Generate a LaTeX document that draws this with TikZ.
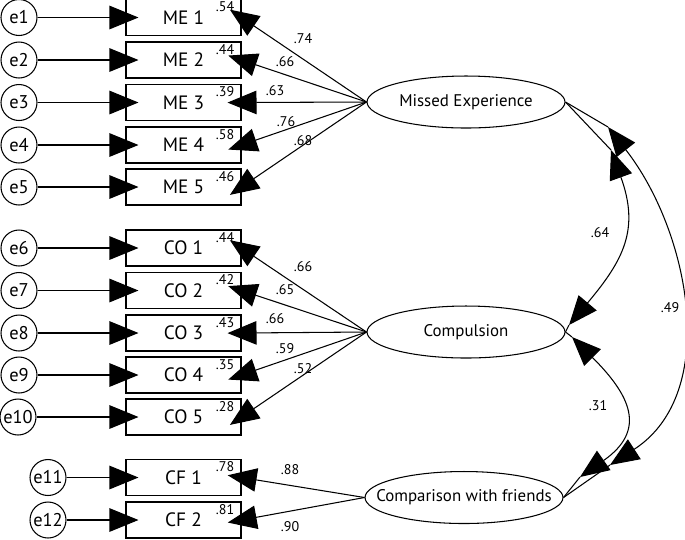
\documentclass[tikz,border=0pt]{standalone}
\usepackage{fontspec}
\setmainfont{PT Sans}
\usepackage{tikz}
\usetikzlibrary{arrows.meta,shapes.geometric}

\tikzset{
  err/.style={draw, circle, minimum size=0.72cm, inner sep=0pt, font=\fontsize{10.5}{12}\selectfont},
  obs/.style={draw, rectangle, minimum width=2.3cm, minimum height=0.72cm, inner sep=0pt, font=\fontsize{11}{13}\selectfont},
  lat/.style={draw, ellipse, minimum width=3.96cm, minimum height=1.04cm, inner xsep=-0.45cm, inner ysep=0pt, font=\fontsize{9.6}{12}\selectfont},
  lab/.style={inner sep=1pt, font=\fontsize{8}{9}\selectfont},
  arr/.style={-{Triangle[length=0.58cm,width=0.47cm]}},
  darr/.style={{Triangle[length=0.58cm,width=0.47cm]}-{Triangle[length=0.58cm,width=0.47cm]}}
}

\begin{document}
\begin{tikzpicture}[x=0.02cm,y=-0.02cm, line width=0.6pt]
  \useasboundingbox (0,0) rectangle (685,539);
  % observed variables
  \foreach \n/\t/\y in {me1/ME 1/17.5, me2/ME 2/60, me3/ME 3/102.5, me4/ME 4/145, me5/ME 5/187,
      co1/CO 1/248, co2/CO 2/290.5, co3/CO 3/333, co4/CO 4/375, co5/CO 5/417,
      cf1/CF 1/477.5, cf2/CF 2/520}
    \node[obs] (\n) at (183.5,\y) {\t};
  % errors
  \foreach \n/\i/\x in {me1/1/19, me2/2/19, me3/3/19, me4/4/19, me5/5/19,
      co1/6/19, co2/7/19, co3/8/19, co4/9/19, co5/10/18, cf1/11/48, cf2/12/48}
  {
    \node[err] (e\i) at (\x,0 |- \n) {e\i};
    \draw[arr, shorten >=-0.26cm] (e\i) -- (\n.west);
  }
  % latent variables
  \node[lat] (me) at (466,102) {Missed Experience};
  \node[lat] (co) at (466,332) {Compulsion};
  \node[lat] (cf) at (464,497.5) {Comparison with friends};
  % loadings
  \foreach \n in {me1,me2,me3,me4,me5}
    \draw[arr, shorten >=-0.28cm] (me.west) -- (\n.east);
  \foreach \n in {co1,co2,co3,co4,co5}
    \draw[arr, shorten >=-0.28cm] (co.west) -- (\n.east);
  \foreach \n in {cf1,cf2}
    \draw[arr, shorten >=-0.28cm] (cf.west) -- (\n.east);
  \foreach \v/\x/\y in {.74/303/39, .66/285/62, .63/275/91, .76/286/122, .68/303/141,
      .66/303/267, .65/285/290, .66/275/319, .59/285/349, .52/303/369,
      .88/290/470, .90/290/527}
    \node[lab] at (\x,\y) {\v};
  % squared multiple correlations
  \foreach \n/\v in {me1/.54, me2/.44, me3/.39, me4/.58, me5/.46,
      co1/.44, co2/.42, co3/.43, co4/.35, co5/.28, cf1/.78, cf2/.81}
    \node[lab, anchor=north east] at ([xshift=-0.1cm,yshift=-0.01cm]\n.north east) {\v};
  % correlations
  \coordinate (a1) at (611,150);
  \coordinate (b1) at (569,325);
  \coordinate (a2) at (608,127);
  \coordinate (b2) at (610,465);
  \coordinate (a3) at (572,337);
  \coordinate (b3) at (580,477);
  \draw (me.east) -- (a1);
  \draw[darr] (a1) to[out=-70, in=50, looseness=1.2] (b1);
  \draw (b1) -- (co.east);
  \draw (me.east) -- (a2);
  \draw[darr] (a2) to[out=-52, in=33] (b2);
  \draw (b2) -- (cf.east);
  \draw (co.east) -- (a3);
  \draw[darr] (a3) to[out=-45, in=35, looseness=1.5] (b3);
  \draw (b3) -- (cf.east);
  \node[lab] (r1) at (600,233) {.64};
  \node[lab] (r2) at (670,308) {.49};
  \node[lab] (r3) at (598,406) {.31};
\end{tikzpicture}
\end{document}
